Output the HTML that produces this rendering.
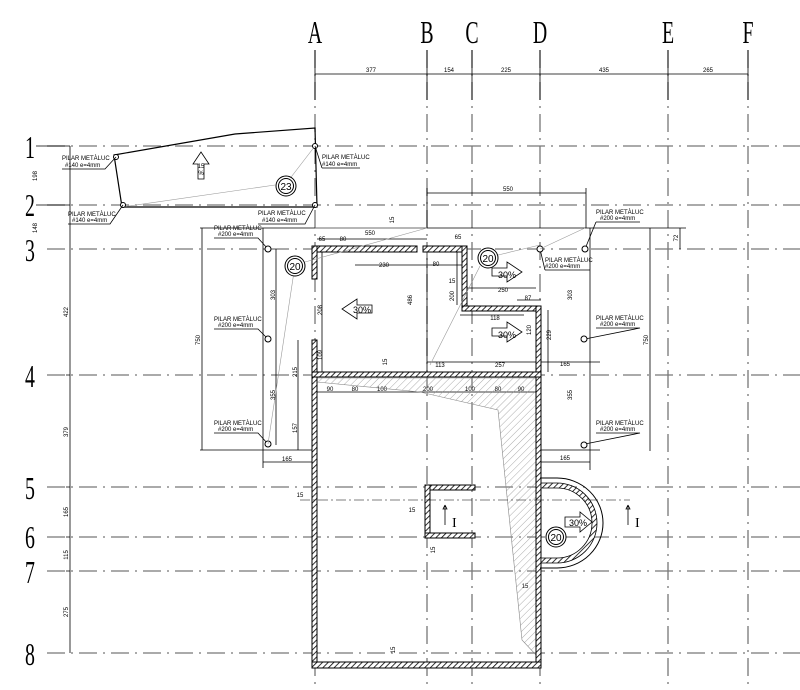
<!DOCTYPE html>
<html><head><meta charset="utf-8"><style>
html,body{margin:0;padding:0;background:#fff;}
svg{display:block;font-family:"Liberation Sans",sans-serif;}
.g{stroke:#777;stroke-width:1.3;stroke-dasharray:18,6,2,6;fill:none}
.d{stroke:#000;stroke-width:0.8;fill:none}
.t{font-size:6px;fill:#000}
.big{font-family:"Liberation Serif",serif;font-size:32px;fill:#000}
.w{fill:url(#h);stroke:#000;stroke-width:1}
.p{fill:#fff;stroke:#000;stroke-width:1}
</style></head><body>
<svg width="800" height="690" viewBox="0 0 800 690">
<defs>
<pattern id="h" width="4" height="4" patternUnits="userSpaceOnUse" patternTransform="rotate(45)"><rect width="4" height="4" fill="#fff"/><line x1="0" y1="0" x2="0" y2="4" stroke="#000" stroke-width="1.6"/></pattern>
<pattern id="h2" width="5" height="5" patternUnits="userSpaceOnUse" patternTransform="rotate(45)"><line x1="0" y1="0" x2="0" y2="5" stroke="#888" stroke-width="0.7"/></pattern>
</defs>
<g class="big" text-anchor="middle">
<text transform="translate(315,43) scale(0.62,1)">A</text><text transform="translate(427,43) scale(0.62,1)">B</text><text transform="translate(472,43) scale(0.62,1)">C</text><text transform="translate(540,43) scale(0.62,1)">D</text><text transform="translate(668,43) scale(0.62,1)">E</text><text transform="translate(748,43) scale(0.62,1)">F</text>
<text transform="translate(30,158) scale(0.62,1)">1</text><text transform="translate(30,216) scale(0.62,1)">2</text><text transform="translate(30,261) scale(0.62,1)">3</text><text transform="translate(30,387) scale(0.62,1)">4</text><text transform="translate(30,499) scale(0.62,1)">5</text><text transform="translate(30,548) scale(0.62,1)">6</text><text transform="translate(30,583) scale(0.62,1)">7</text><text transform="translate(30,665) scale(0.62,1)">8</text>
</g>
<g class="g">
<path d="M315 50V690M427 50V690M472 50V690M540 50V690M668 50V690M748 50V690"/>
<path d="M47 146H800M47 205H800M47 249H800M47 375H800M47 487H800M47 537H800M47 571H800M47 653H800"/>
</g>
<path class="d" d="M315 74H748M315 50V100M427 50V100M472 50V100M540 50V100M668 50V100M748 50V100"/>
<g class="t" text-anchor="middle"><text x="371" y="72">377</text><text x="449" y="72">154</text><text x="506" y="72">225</text><text x="604" y="72">435</text><text x="708" y="72">265</text></g>
<path class="d" d="M36 146H70M36 205H70M70 146V249M70 249V653M70 375h-4M70 487h-4M70 537h-4M70 571h-4"/>
<g class="t" text-anchor="middle">
<text transform="translate(37,176) rotate(-90)">198</text><text transform="translate(37,228) rotate(-90)">148</text>
<text transform="translate(68,312) rotate(-90)">422</text><text transform="translate(68,432) rotate(-90)">379</text>
<text transform="translate(68,512) rotate(-90)">165</text><text transform="translate(68,555) rotate(-90)">115</text><text transform="translate(68,612) rotate(-90)">275</text>
</g>
<polygon points="114,155 235,134 315,128 317,207 122,207" fill="none" stroke="#000" stroke-width="1.2"/>
<path d="M122,207 L275,185 M315,146 L285,185" stroke="#999" stroke-width="0.6" fill="none"/>
<circle cx="116" cy="157" r="2.5" class="p"/><circle cx="315" cy="146" r="2.5" class="p"/><circle cx="123" cy="205" r="2.5" class="p"/><circle cx="315" cy="205" r="2.5" class="p"/>
<circle cx="286" cy="186" r="10" class="p" stroke-width="1.5"/><circle cx="286" cy="186" r="7.5" fill="none" stroke="#000"/><text x="286" y="190" font-size="10" text-anchor="middle">23</text>
<path d="M198,164 h-5 l8,-12 l8,12 h-5 v15 h-6z" fill="#fff" stroke="#000" stroke-width="0.8"/><text x="201" y="168" class="t" text-anchor="middle">15</text><text x="201" y="175" class="t" text-anchor="middle">%</text>
<g class="t">
<text x="62" y="160">PILAR METÀLUC</text><text x="65" y="167">#140 e=4mm</text>
<text x="322" y="159">PILAR METÀLUC</text><text x="322" y="166">#140 e=4mm</text>
<text x="68" y="216">PILAR METÀLUC</text><text x="72" y="222">#140 e=4mm</text>
<text x="258" y="215">PILAR METÀLUC</text><text x="262" y="222">#140 e=4mm</text>
<text x="214" y="230">PILAR METÀLUC</text><text x="218" y="236">#200 e=4mm</text>
<text x="214" y="321">PILAR METÀLUC</text><text x="218" y="327">#200 e=4mm</text>
<text x="214" y="425">PILAR METÀLUC</text><text x="218" y="431">#200 e=4mm</text>
<text x="596" y="214">PILAR METÀLUC</text><text x="600" y="220">#200 e=4mm</text>
<text x="545" y="262">PILAR METÀLUC</text><text x="545" y="268">#200 e=4mm</text>
<text x="596" y="320">PILAR METÀLUC</text><text x="600" y="326">#200 e=4mm</text>
<text x="596" y="425">PILAR METÀLUC</text><text x="600" y="431">#200 e=4mm</text>
</g>
<path class="d" d="M62,169 H105 L116,157 M322,168 H360 M315,146 L322,168 M68,224 H110 L123,205 M258,224 H305 L315,205 M214,238H258L268,249 M214,329H258L268,339 M214,433H258L268,444 M596,222H640 M585,249 L596,222 M545,270H590 M540,249 L545,270 M596,328H640L585,339 M596,433H640L585,444"/>
<path class="d" d="M200,228H686M263,228V468M200,450H315M202,228V450M276,249V445M298,340V450M590,228V470M540,450H600M650,228V451M680,228V249M540,462H590M263,462H315M427,193H586M427,188V228M586,188V228"/>
<circle cx="268" cy="249" r="3" class="p"/><circle cx="268" cy="339" r="3" class="p"/><circle cx="268" cy="444" r="3" class="p"/>
<circle cx="540" cy="249" r="3" class="p"/><circle cx="585" cy="249" r="3" class="p"/><circle cx="584" cy="339" r="3" class="p"/><circle cx="584" cy="445" r="3" class="p"/>
<path d="M268,444 L295,265 M540,249 L585,228 M315,228 L427,228" stroke="#999" stroke-width="0.6" fill="none"/>
<g class="t" text-anchor="middle">
<text transform="translate(200,340) rotate(-90)">750</text><text transform="translate(275,295) rotate(-90)">303</text><text transform="translate(275,395) rotate(-90)">355</text>
<text transform="translate(297,372) rotate(-90)">215</text><text transform="translate(297,428) rotate(-90)">157</text>
<text x="287" y="461">165</text><text x="565" y="460">165</text>
<text transform="translate(648,340) rotate(-90)">750</text><text transform="translate(572,295) rotate(-90)">303</text><text transform="translate(572,395) rotate(-90)">355</text>
<text transform="translate(678,238) rotate(-90)">72</text>
<text x="508" y="191">550</text><text x="370" y="235">550</text><text x="384" y="267">230</text><text x="436" y="266">80</text>
<text x="322" y="241">65</text><text x="343" y="241">80</text><text x="458" y="239">65</text>
<text transform="translate(412,300) rotate(-90)">486</text><text transform="translate(322,310) rotate(-90)">208</text><text transform="translate(322,355) rotate(-90)">109</text>
<text x="503" y="292">250</text><text x="528" y="300">87</text><text x="495" y="320">118</text>
<text transform="translate(454,296) rotate(-90)">200</text><text transform="translate(551,335) rotate(-90)">229</text><text transform="translate(531,330) rotate(-90)">120</text>
<text x="440" y="367">113</text><text x="500" y="367">257</text><text x="565" y="366">165</text>
<text x="330" y="391">90</text><text x="355" y="391">80</text><text x="382" y="391">100</text><text x="428" y="391">200</text><text x="470" y="391">100</text><text x="498" y="391">80</text><text x="521" y="391">90</text>
<text x="300" y="497">15</text><text x="412" y="512">15</text><text x="525" y="588">15</text><text transform="translate(395,650) rotate(-90)">15</text><text transform="translate(435,550) rotate(-90)">15</text>
<text transform="translate(394,220) rotate(-90)">15</text><text transform="translate(387,362) rotate(-90)">15</text><text x="452" y="283">15</text>
</g>
<path class="d" d="M317,239H427M355,265H467M427,258V372M322,250V372M322,372V340M467,288H536M517,300H541M460,315H524M548,310V372M535,362H600M427,362H536M317,392H536M457,250V305"/>
<polygon points="317,378 536,378 536,655 522,640 498,410 420,392 317,382" fill="url(#h2)" stroke="#888" stroke-width="0.6"/>
<g class="w">
<rect x="312" y="246" width="105" height="6"/><rect x="423" y="246" width="44" height="6"/>
<rect x="312" y="246" width="5" height="33"/><rect x="312" y="340" width="5" height="40"/>
<rect x="462" y="246" width="5" height="65"/><rect x="462" y="306" width="79" height="5"/>
<rect x="536" y="306" width="5" height="362"/>
<rect x="312" y="372" width="229" height="5"/>
<rect x="312" y="377" width="5" height="290"/>
<rect x="312" y="662" width="229" height="6"/>
<rect x="425" y="485" width="50" height="5"/><rect x="425" y="485" width="5" height="52"/><rect x="425" y="533" width="50" height="5"/>
</g>
<path d="M540,478 H557 A46,45 0 0 1 557,568 H540" fill="none" stroke="#000" stroke-width="1"/>
<path d="M541,483 H557 A40,40 0 0 1 557,563 H541 V558 H557 A35,35 0 0 0 557,488 H541Z" fill="url(#h)" stroke="#000" stroke-width="0.8"/>
<path d="M300,500 H630" stroke="#000" stroke-width="0.6" stroke-dasharray="10,3,2,3"/>
<path class="d" d="M445,525V505l-2,4h4l-2,-4M628,525V505l-2,4h4l-2,-4"/>
<text x="452" y="527" font-family="Liberation Serif" font-size="14">I</text><text x="635" y="527" font-family="Liberation Serif" font-size="14">I</text>
<g>
<circle cx="295" cy="266" r="10" class="p" stroke-width="1.5"/><circle cx="295" cy="266" r="7.5" fill="none" stroke="#000"/><text x="295" y="270" font-size="10" text-anchor="middle">20</text>
<circle cx="488" cy="258" r="10" class="p" stroke-width="1.5"/><circle cx="488" cy="258" r="7.5" fill="none" stroke="#000"/><text x="488" y="262" font-size="10" text-anchor="middle">20</text>
<circle cx="556" cy="537" r="10" class="p" stroke-width="1.5"/><circle cx="556" cy="537" r="7.5" fill="none" stroke="#000"/><text x="556" y="541" font-size="10" text-anchor="middle">20</text>
</g>
<path d="M305,262 L427,228 M480,266 L430,365 M498,255 L540,245" stroke="#999" stroke-width="0.6" fill="none"/>
<g fill="#fff" stroke="#000" stroke-width="0.8">
<path d="M372,305 h-15 v-6 l-15,10 l15,10 v-6 h15z"/>
<path d="M492,268 h15 v-6 l15,10 l-15,10 v-6 h-15z"/>
<path d="M492,328 h15 v-6 l15,10 l-15,10 v-6 h-15z"/>
<path d="M565,517 h15 v-5 l12,10 l-12,10 v-5 h-15z"/>
</g>
<g font-size="9" text-anchor="middle"><text x="362" y="313">30%</text><text x="507" y="278">30%</text><text x="507" y="338">30%</text><text x="578" y="526">30%</text></g>
</svg>
</body></html>
